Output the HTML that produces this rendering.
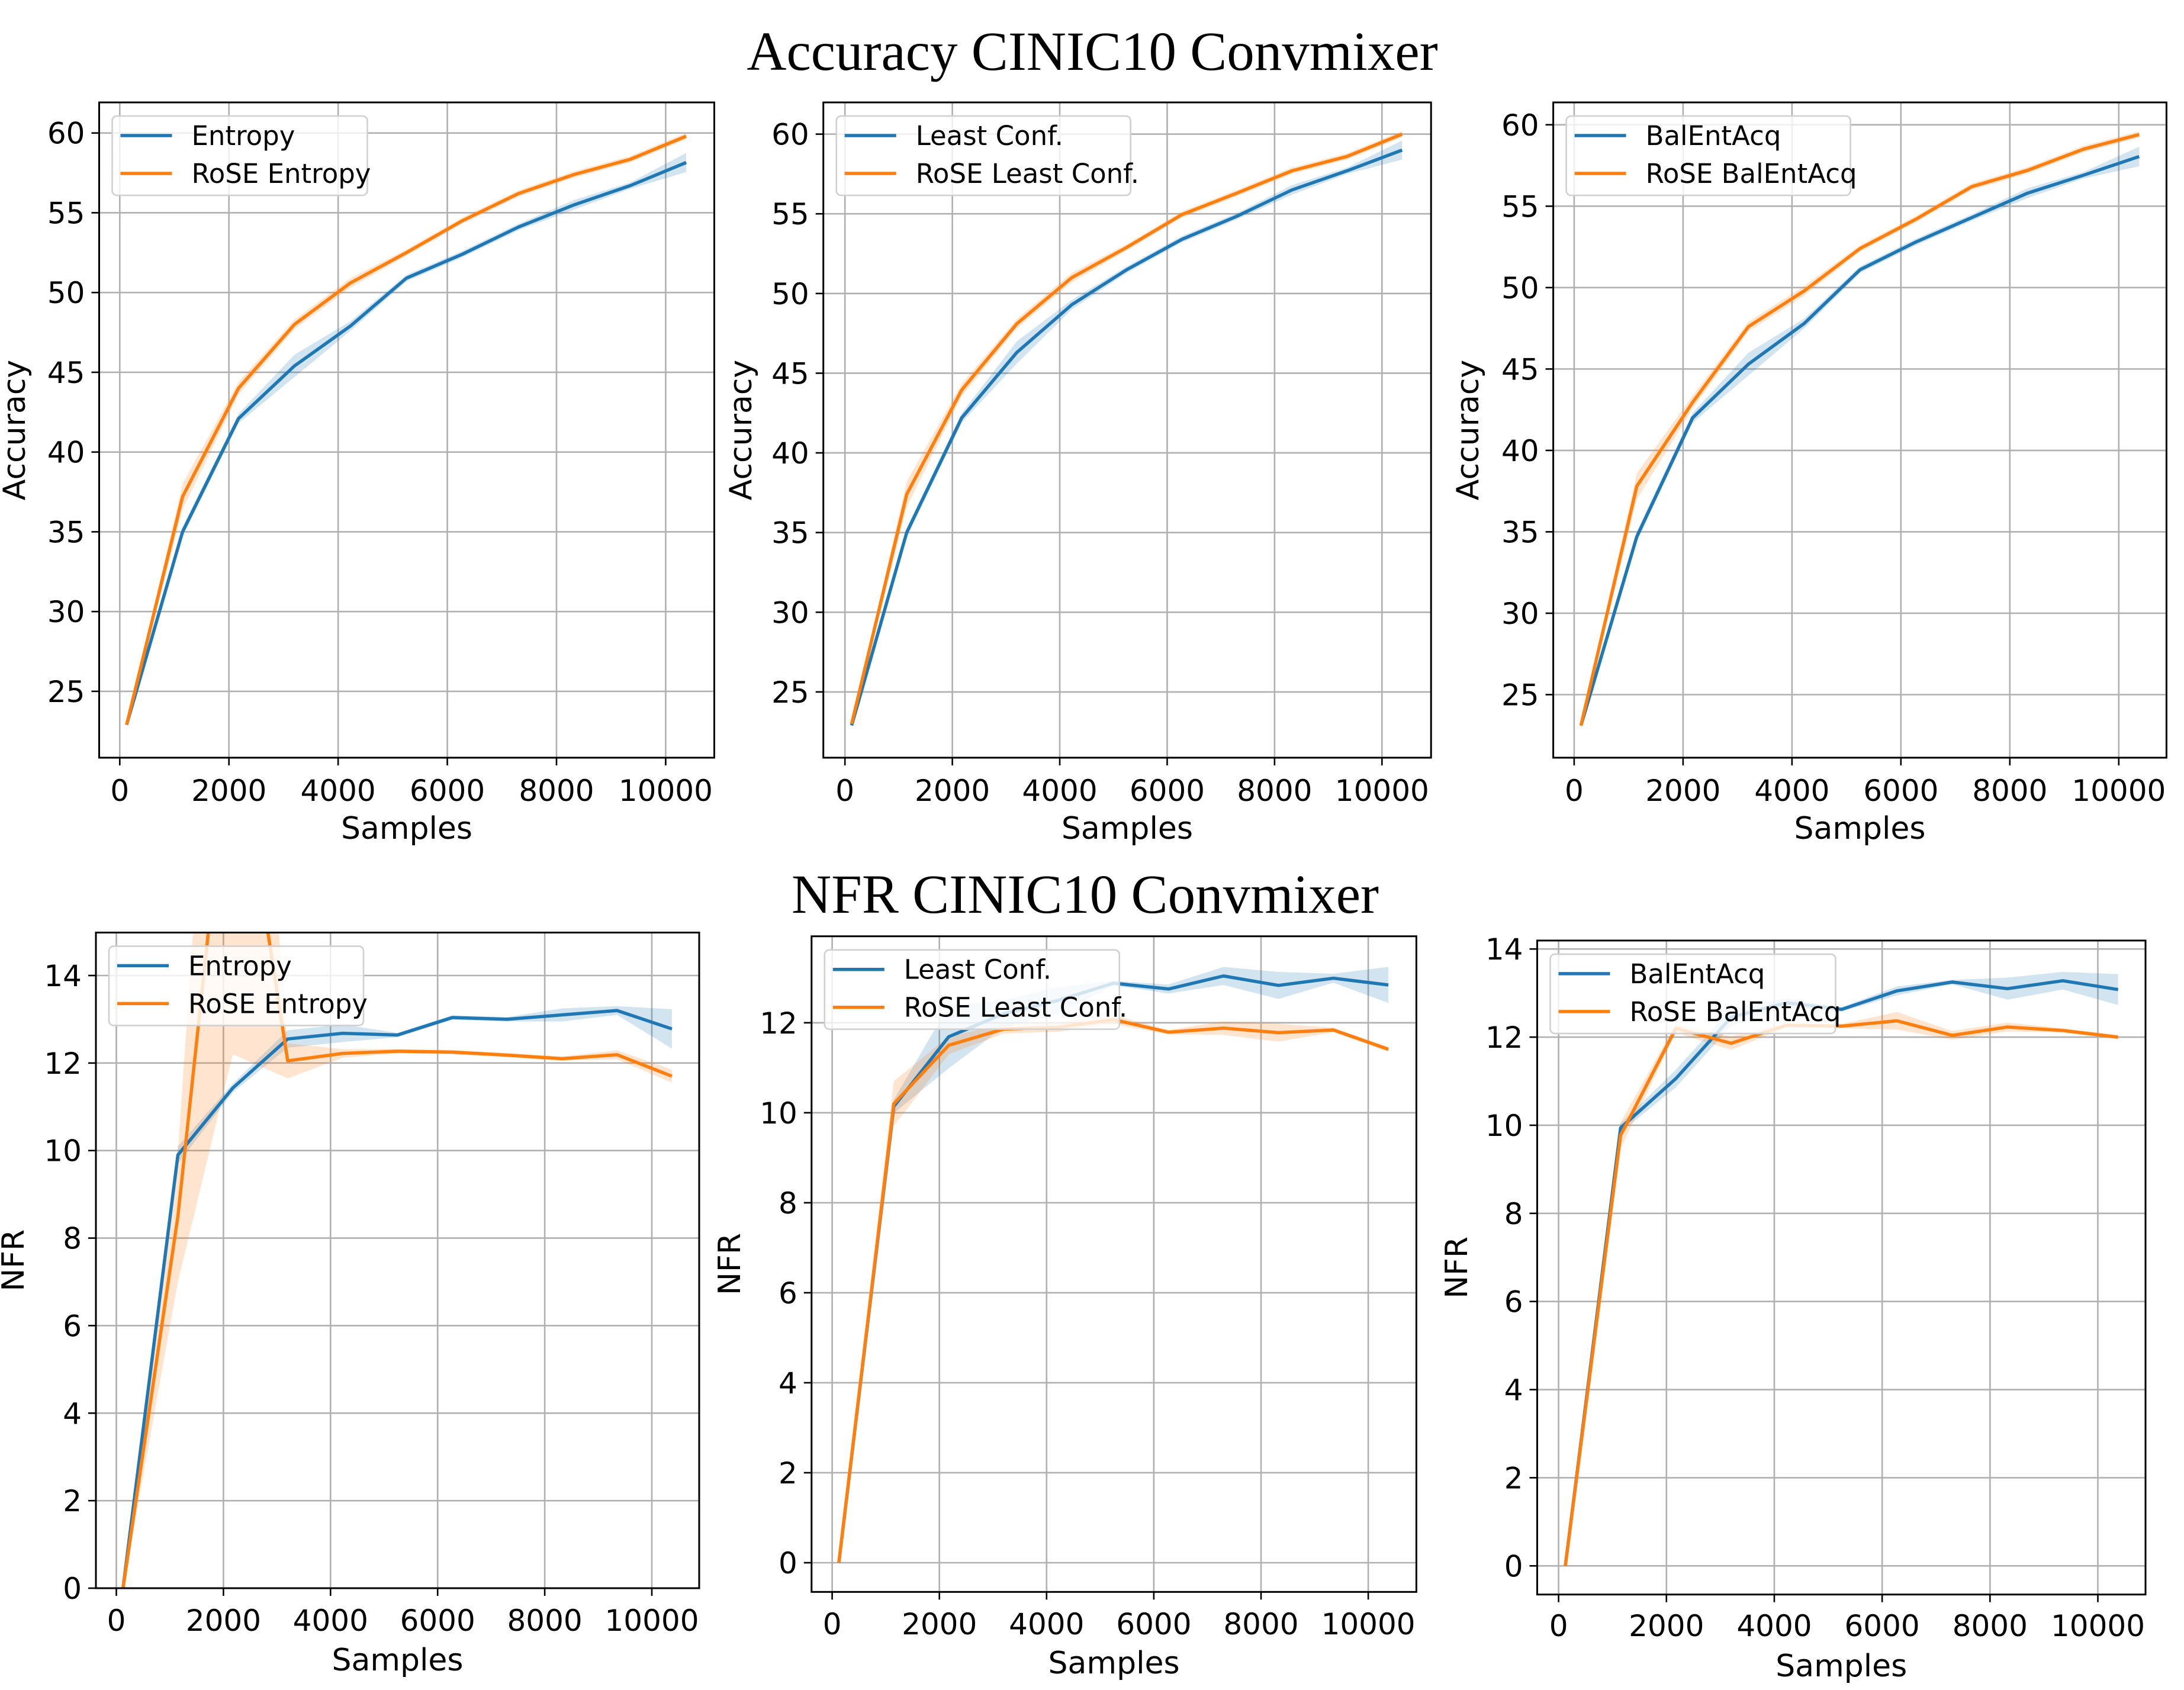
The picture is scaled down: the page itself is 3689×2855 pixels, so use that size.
<!DOCTYPE html>
<html><head><meta charset="utf-8"><style>
html,body{margin:0;padding:0;background:#fff}
svg{display:block}
</style></head><body>
<svg id="fig" width="3689" height="2855" viewBox="0 0 3689 2855" xmlns="http://www.w3.org/2000/svg">
<text x="1845" y="118" font-family="Liberation Serif, serif" font-size="93" text-anchor="middle">Accuracy CINIC10 Convmixer</text>
<text x="1833" y="1542" font-family="Liberation Serif, serif" font-size="93" text-anchor="middle">NFR CINIC10 Convmixer</text>
</svg>
<script>
const samples = [125,1150,2175,3200,4225,5250,6275,7300,8325,9350,10375];
const xTicks = [0,2000,4000,6000,8000,10000];
const accTicks = [25,30,35,40,45,50,55,60];
const nfrTicks14 = [0,2,4,6,8,10,12,14];
const nfrTicks12 = [0,2,4,6,8,10,12];

const accEntropy = [22.9,35.0,42.1,45.4,47.9,50.9,52.4,54.1,55.5,56.7,58.15];
const accRoseEntropy = [22.9,37.2,44.0,48.0,50.6,52.5,54.5,56.2,57.4,58.35,59.8];
const accLeast = [22.9,35.0,42.2,46.3,49.3,51.5,53.4,54.85,56.5,57.7,59.0];
const accRoseLeast = [23.0,37.4,43.95,48.1,51.0,52.9,54.95,56.3,57.7,58.6,60.0];
const accBal = [23.1,34.7,42.0,45.3,47.8,51.1,52.8,54.3,55.8,56.9,58.05];
const accRoseBal = [23.1,37.8,42.95,47.6,49.8,52.4,54.2,56.2,57.2,58.5,59.4];

const nfrEntropy = [0,9.9,11.43,12.55,12.68,12.64,13.04,13.0,13.1,13.2,12.78];
const nfrRoseEntropy = [0,8.5,20.2,12.05,12.22,12.27,12.25,12.18,12.1,12.19,11.7];
const nfrLeast = [0,10.14,11.69,12.2,12.5,12.88,12.75,13.04,12.83,12.99,12.84];
const nfrRoseLeast = [0,10.2,11.5,11.86,11.9,12.07,11.79,11.88,11.78,11.84,11.41];
const nfrBal = [0,9.94,11.06,12.45,12.78,12.63,13.05,13.25,13.1,13.28,13.08];
const nfrRoseBal = [0,9.77,12.2,11.86,12.27,12.25,12.37,12.04,12.23,12.15,12.0];

const accBandSmall = [0.1,0.3,0.3,0.7,0.3,0.2,0.2,0.2,0.3,0.2,0.6];
const accBandRose = [0.1,0.8,0.4,0.3,0.3,0.2,0.2,0.2,0.2,0.2,0.2];
const nfrBandEntropy = [0,0.2,0.1,0.2,0.2,0.05,0.05,0.05,0.15,0.1,0.45];
const nfrBandRoseEntropy = [0,1.5,8,0.4,0.1,0.05,0.05,0.05,0.05,0.1,0.15];
const nfrBandLeast = [0,0.15,0.7,0.3,0.3,0.05,0.1,0.2,0.3,0.1,0.4];
const nfrBandRoseLeast = [0,0.5,0.2,0.1,0.1,0.1,0.05,0.15,0.2,0.05,0.05];
const nfrBandBal = [0,0.1,0.2,0.2,0.1,0.05,0.1,0.05,0.25,0.2,0.35];
const nfrBandRoseBal = [0,0.3,0.1,0.15,0.05,0.05,0.2,0.1,0.1,0.05,0.05];

const NS="http://www.w3.org/2000/svg";
const svg=document.getElementById('fig');
function mk(tag,attrs,parent){const e=document.createElementNS(NS,tag);for(const k in attrs)e.setAttribute(k,attrs[k]);(parent||svg).appendChild(e);return e;}
const BLUE='#1f77b4', ORANGE='#ff7f0e';

const panels=[
 {id:'acc-entropy',L:167.5,R:1206.5,T:173,B:1280,x0:202.3,x1:1124.4,ya:60,yA:224.7,yb:25,yB:1167.9,ticks:accTicks,yl:'Accuracy',ylx:25,tickY:1353,labY:1417,blue:accEntropy,bb:accBandSmall,orange:accRoseEntropy,ob:accBandRose,names:['Entropy','RoSE Entropy'],lw:431},
 {id:'acc-least',L:1390.7,R:2417.2,T:173,B:1280,x0:1427.2,x1:2334.3,ya:60,yA:226.6,yb:25,yB:1168.9,ticks:accTicks,yl:'Accuracy',ylx:1252,tickY:1353,labY:1417,blue:accLeast,bb:accBandSmall,orange:accRoseLeast,ob:accBandRose,names:['Least Conf.','RoSE Least Conf.'],lw:497},
 {id:'acc-bal',L:2623.6,R:3659.4,T:173,B:1280,x0:2658.9,x1:3578.8,ya:60,yA:210.8,yb:25,yB:1173.5,ticks:accTicks,yl:'Accuracy',ylx:2480,tickY:1353,labY:1417,blue:accBal,bb:accBandSmall,orange:accRoseBal,ob:accBandRose,names:['BalEntAcq','RoSE BalEntAcq'],lw:480},
 {id:'nfr-entropy',L:162,R:1181,T:1575.4,B:2683,x0:196.5,x1:1101,ya:14,yA:1648,yb:0,yB:2683,ticks:nfrTicks14,yl:'NFR',ylx:23,tickY:2755,labY:2822,blue:nfrEntropy,bb:nfrBandEntropy,orange:nfrRoseEntropy,ob:nfrBandRoseEntropy,names:['Entropy','RoSE Entropy'],lw:430},
 {id:'nfr-least',L:1370.8,R:2392.4,T:1581.7,B:2689.3,x0:1405.6,x1:2311.1,ya:12,yA:1727.8,yb:0,yB:2640,ticks:nfrTicks12,yl:'NFR',ylx:1233,tickY:2761,labY:2827,blue:nfrLeast,bb:nfrBandLeast,orange:nfrRoseLeast,ob:nfrBandRoseLeast,names:['Least Conf.','RoSE Least Conf.'],lw:498},
 {id:'nfr-bal',L:2596.5,R:3624,T:1588.9,B:2693.7,x0:2632.6,x1:3543.5,ya:14,yA:1603.2,yb:0,yB:2645.3,ticks:nfrTicks14,yl:'NFR',ylx:2461,tickY:2764,labY:2832,blue:nfrBal,bb:nfrBandBal,orange:nfrRoseBal,ob:nfrBandRoseBal,names:['BalEntAcq','RoSE BalEntAcq'],lw:482}
];

panels.forEach((p,i)=>{
 const g=mk('g',{});
 
 
 const xs=v=>p.x0+(v/10000)*(p.x1-p.x0);
 const ys=v=>p.yB+(v-p.yb)*(p.yA-p.yB)/(p.ya-p.yb);
 const cp=mk('clipPath',{id:'clip'+i},g);
 mk('rect',{x:p.L,y:p.T,width:p.R-p.L,height:p.B-p.T},cp);
 xTicks.forEach(t=>{
  const l=mk('line',{x1:xs(t),x2:xs(t),y1:p.T,y2:p.B,stroke:'#b0b0b0','stroke-width':2.6},g);
  
  
 });
 p.ticks.forEach(t=>{
  const l=mk('line',{x1:p.L,x2:p.R,y1:ys(t),y2:ys(t),stroke:'#b0b0b0','stroke-width':2.6},g);
  
  
 });
 const pg=mk('g',{'clip-path':'url(#clip'+i+')'},g);
 [[p.blue,p.bb,BLUE,'blue'],[p.orange,p.ob,ORANGE,'orange']].forEach(([vals,band,col,nm])=>{
  let up=samples.map((s,k)=>xs(s)+','+ys(vals[k]+band[k]));
  let lo=samples.map((s,k)=>xs(s)+','+ys(vals[k]-band[k])).reverse();
  const b=mk('polygon',{points:up.concat(lo).join(' '),fill:col,'fill-opacity':0.2,stroke:'none'},pg);
  
  
 });
 [[p.blue,BLUE,'blue'],[p.orange,ORANGE,'orange']].forEach(([vals,col,nm])=>{
  const l=mk('polyline',{points:samples.map((s,k)=>xs(s)+','+ys(vals[k])).join(' '),fill:'none',stroke:col,'stroke-width':5.5,'stroke-linejoin':'round'},pg);
  
  
 });
 const fr=mk('rect',{x:p.L,y:p.T,width:p.R-p.L,height:p.B-p.T,fill:'none',stroke:'#000','stroke-width':3},g);
 
 
 xTicks.forEach(t=>{
  mk('line',{x1:xs(t),x2:xs(t),y1:p.B,y2:p.B+13,stroke:'#000','stroke-width':2.6},g);
  const tx=mk('text',{x:xs(t),y:p.tickY,'font-family':'DejaVu Sans, sans-serif','font-size':50,'text-anchor':'middle'},g);
  tx.textContent=t;
  
  
 });
 p.ticks.forEach(t=>{
  mk('line',{x1:p.L-13,x2:p.L,y1:ys(t),y2:ys(t),stroke:'#000','stroke-width':2.6},g);
  const tx=mk('text',{x:p.L-24,y:ys(t)+18,'font-family':'DejaVu Sans, sans-serif','font-size':50,'text-anchor':'end'},g);
  tx.textContent=t;
  
  
 });
 const xl=mk('text',{x:(p.L+p.R)/2,y:p.labY,'font-family':'DejaVu Sans, sans-serif','font-size':52,'text-anchor':'middle'},g);
 xl.textContent='Samples';
 
 
 const cy=(p.T+p.B)/2;
 const yl=mk('text',{x:p.ylx,y:cy,'font-family':'DejaVu Sans, sans-serif','font-size':52,'text-anchor':'middle',transform:'rotate(-90 '+p.ylx+' '+cy+')','dominant-baseline':'central'},g);
 yl.textContent=p.yl;
 
 
 const lx=p.L+22, ly=p.T+23;
 const lg=mk('g',{},g);
 
 
 mk('rect',{x:lx,y:ly,width:p.lw,height:134,rx:8,fill:'#fff','fill-opacity':0.8,stroke:'#d0d0d0','stroke-width':2.6},lg);
 [[BLUE,p.names[0],33],[ORANGE,p.names[1],97]].forEach(([col,name,dy])=>{
  const e=mk('g',{},lg);
  
  
  mk('line',{x1:lx+14,x2:lx+101,y1:ly+dy,y2:ly+dy,stroke:col,'stroke-width':5.5},e);
  const t=mk('text',{x:lx+134,y:ly+dy+16,'font-family':'DejaVu Sans, sans-serif','font-size':45},e);
  t.textContent=name;
 });
});
</script>
</body></html>
